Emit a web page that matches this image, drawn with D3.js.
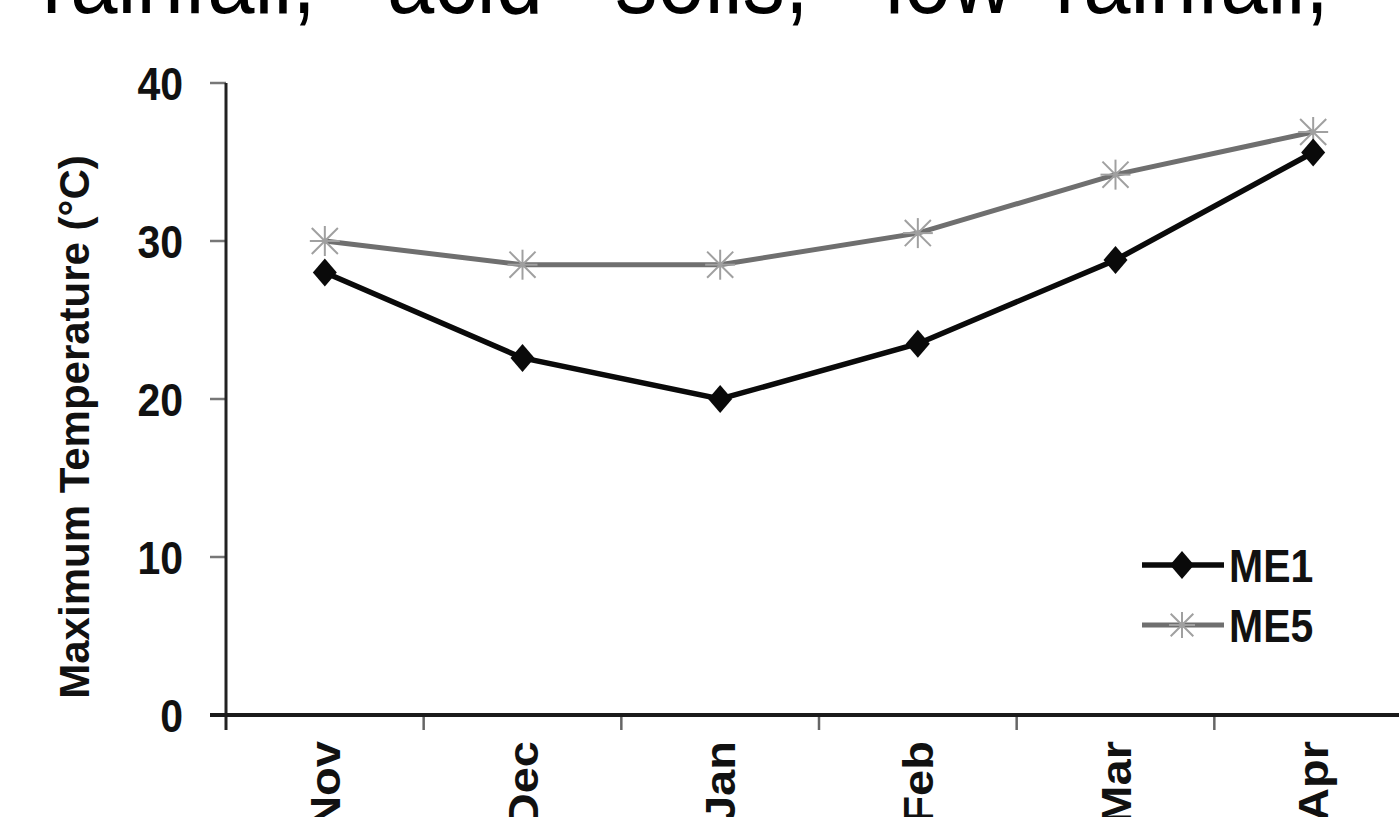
<!DOCTYPE html>
<html>
<head>
<meta charset="utf-8">
<script src="https://cdn.jsdelivr.net/npm/d3@7"></script>
<style>
  html, body { margin: 0; padding: 0; background: #fff; overflow: hidden; }
  svg { display: block; }
  .label { font-family: 'Liberation Sans', Arial, sans-serif; font-weight: bold; fill: #111; }
</style>
</head>
<body>
<div id="svg-container"></div>
<script>
const months = ['Nov', 'Dec', 'Jan', 'Feb', 'Mar', 'Apr'];
const me1 = [28.0, 22.6, 20.0, 23.5, 28.8, 35.6];
const me5 = [30.0, 28.5, 28.5, 30.5, 34.2, 36.9];
const yTicks = [0, 10, 20, 30, 40];
const seriesNames = ['ME1', 'ME5'];
const headerWords = ['rainfall,', 'acid', 'soils,', 'low', 'rainfall,'];

const width = 1399;
const height = 817;
const margin = {top: 83, right: -13, bottom: 102, left: 226};
const fontSize = 41;
// the source scan is slightly stretched vertically
const stretch = 1.12;

const svg = d3.select('#svg-container')
  .append('svg')
  .attr('width', width)
  .attr('height', height);

// cropped line of page text above the figure
const headerX = [42, 387, 615, 885, 1055];
svg.append('g')
  .selectAll('text')
  .data(headerWords)
  .enter()
  .append('text')
  .attr('transform', (d, i) => 'translate(' + headerX[i] + ',13) scale(1,1.15)')
  .style('font-family', "'Liberation Sans', Arial, sans-serif")
  .style('font-size', '85px')
  .style('fill', '#000')
  .text(d => d);

const x = d3.scaleBand()
  .domain(months)
  .range([margin.left, width - margin.right]);

const y = d3.scaleLinear()
  .domain([0, 40])
  .range([height - margin.bottom, margin.top]);

const x0 = y(0);

// y axis
const yAxis = svg.append('g');
yAxis.selectAll('line.tick')
  .data(yTicks)
  .enter()
  .append('line')
  .attr('x1', margin.left - 16)
  .attr('x2', margin.left)
  .attr('y1', d => y(d))
  .attr('y2', d => y(d))
  .style('stroke', '#777')
  .style('stroke-width', 2.5);

yAxis.append('line')
  .attr('x1', margin.left)
  .attr('x2', margin.left)
  .attr('y1', y(40))
  .attr('y2', x0 + 15)
  .style('stroke', '#222')
  .style('stroke-width', 3);

yAxis.selectAll('text')
  .data(yTicks)
  .enter()
  .append('text')
  .attr('class', 'label')
  .attr('transform', d => 'translate(183,' + y(d) + ') scale(1,' + stretch + ')')
  .attr('dy', '0.36em')
  .attr('text-anchor', 'end')
  .style('font-size', fontSize + 'px')
  .text(d => d);

svg.append('text')
  .attr('class', 'label')
  .attr('transform', 'translate(89,427) rotate(-90)')
  .attr('text-anchor', 'middle')
  .style('font-size', '42px')
  .text('Maximum Temperature (°C)');

// x axis
const xAxis = svg.append('g');
const boundaries = months.map(m => x(m)).concat([x(months[months.length - 1]) + x.bandwidth()]);
xAxis.selectAll('line.tick')
  .data(boundaries.slice(1))
  .enter()
  .append('line')
  .attr('x1', d => d)
  .attr('x2', d => d)
  .attr('y1', x0)
  .attr('y2', x0 + 15)
  .style('stroke', '#666')
  .style('stroke-width', 2.5);

xAxis.append('line')
  .attr('x1', margin.left - 16)
  .attr('x2', width)
  .attr('y1', x0)
  .attr('y2', x0)
  .style('stroke', '#1a1a1a')
  .style('stroke-width', 4);

xAxis.selectAll('text')
  .data(months)
  .enter()
  .append('text')
  .attr('class', 'label')
  .attr('transform', d => 'translate(' + (x(d) + x.bandwidth() / 2 + 15) + ',' + (x0 + 26) + ') rotate(-90) scale(' + stretch + ',1)')
  .attr('text-anchor', 'end')
  .style('font-size', '42px')
  .text(d => d);

const cx = i => x(months[i]) + x.bandwidth() / 2;

const line = d3.line()
  .x((d, i) => cx(i))
  .y(d => y(d));

// ME5: grey line with asterisk markers
svg.append('path')
  .datum(me5)
  .attr('d', line)
  .style('fill', 'none')
  .style('stroke', '#6f6f6f')
  .style('stroke-width', 5);

const star = (g, r) => {
  g.append('line').attr('x1', 0).attr('x2', 0).attr('y1', -r).attr('y2', r);
  g.append('line').attr('x1', -r * 0.87).attr('x2', r * 0.87).attr('y1', -r * 0.87).attr('y2', r * 0.87);
  g.append('line').attr('x1', -r * 0.87).attr('x2', r * 0.87).attr('y1', r * 0.87).attr('y2', -r * 0.87);
  g.append('line').attr('x1', -r).attr('x2', r).attr('y1', 0).attr('y2', 0);
  g.selectAll('line').style('stroke', '#a0a0a0').style('stroke-width', 2);
};

svg.append('g')
  .selectAll('g')
  .data(me5)
  .enter()
  .append('g')
  .attr('transform', (d, i) => 'translate(' + cx(i) + ',' + y(d) + ')')
  .each(function () { star(d3.select(this), 15); });

// ME1: black line with diamond markers
svg.append('path')
  .datum(me1)
  .attr('d', line)
  .style('fill', 'none')
  .style('stroke', '#0a0a0a')
  .style('stroke-width', 5.5);

const diamond = 'M0,-14L12,0L0,14L-12,0Z';
svg.append('g')
  .selectAll('path')
  .data(me1)
  .enter()
  .append('path')
  .attr('d', diamond)
  .attr('transform', (d, i) => 'translate(' + cx(i) + ',' + y(d) + ')')
  .style('fill', '#0a0a0a');

// legend
const legendY = [565, 625];
const legend = svg.append('g');
seriesNames.forEach((name, i) => {
  const g = legend.append('g').attr('transform', 'translate(1142,' + legendY[i] + ')');
  g.append('line')
    .attr('x1', 0)
    .attr('x2', 82)
    .style('stroke', i === 0 ? '#0a0a0a' : '#6f6f6f')
    .style('stroke-width', i === 0 ? 5.5 : 5);
  const m = g.append('g').attr('transform', 'translate(40,0)');
  if (i === 0) {
    m.append('path').attr('d', diamond).style('fill', '#0a0a0a');
  } else {
    star(m, 13);
  }
  g.append('text')
    .attr('class', 'label')
    .attr('transform', 'translate(87,0) scale(1,' + stretch + ')')
    .attr('dy', '0.36em')
    .style('font-size', fontSize + 'px')
    .text(name);
});
</script>
</body>
</html>
